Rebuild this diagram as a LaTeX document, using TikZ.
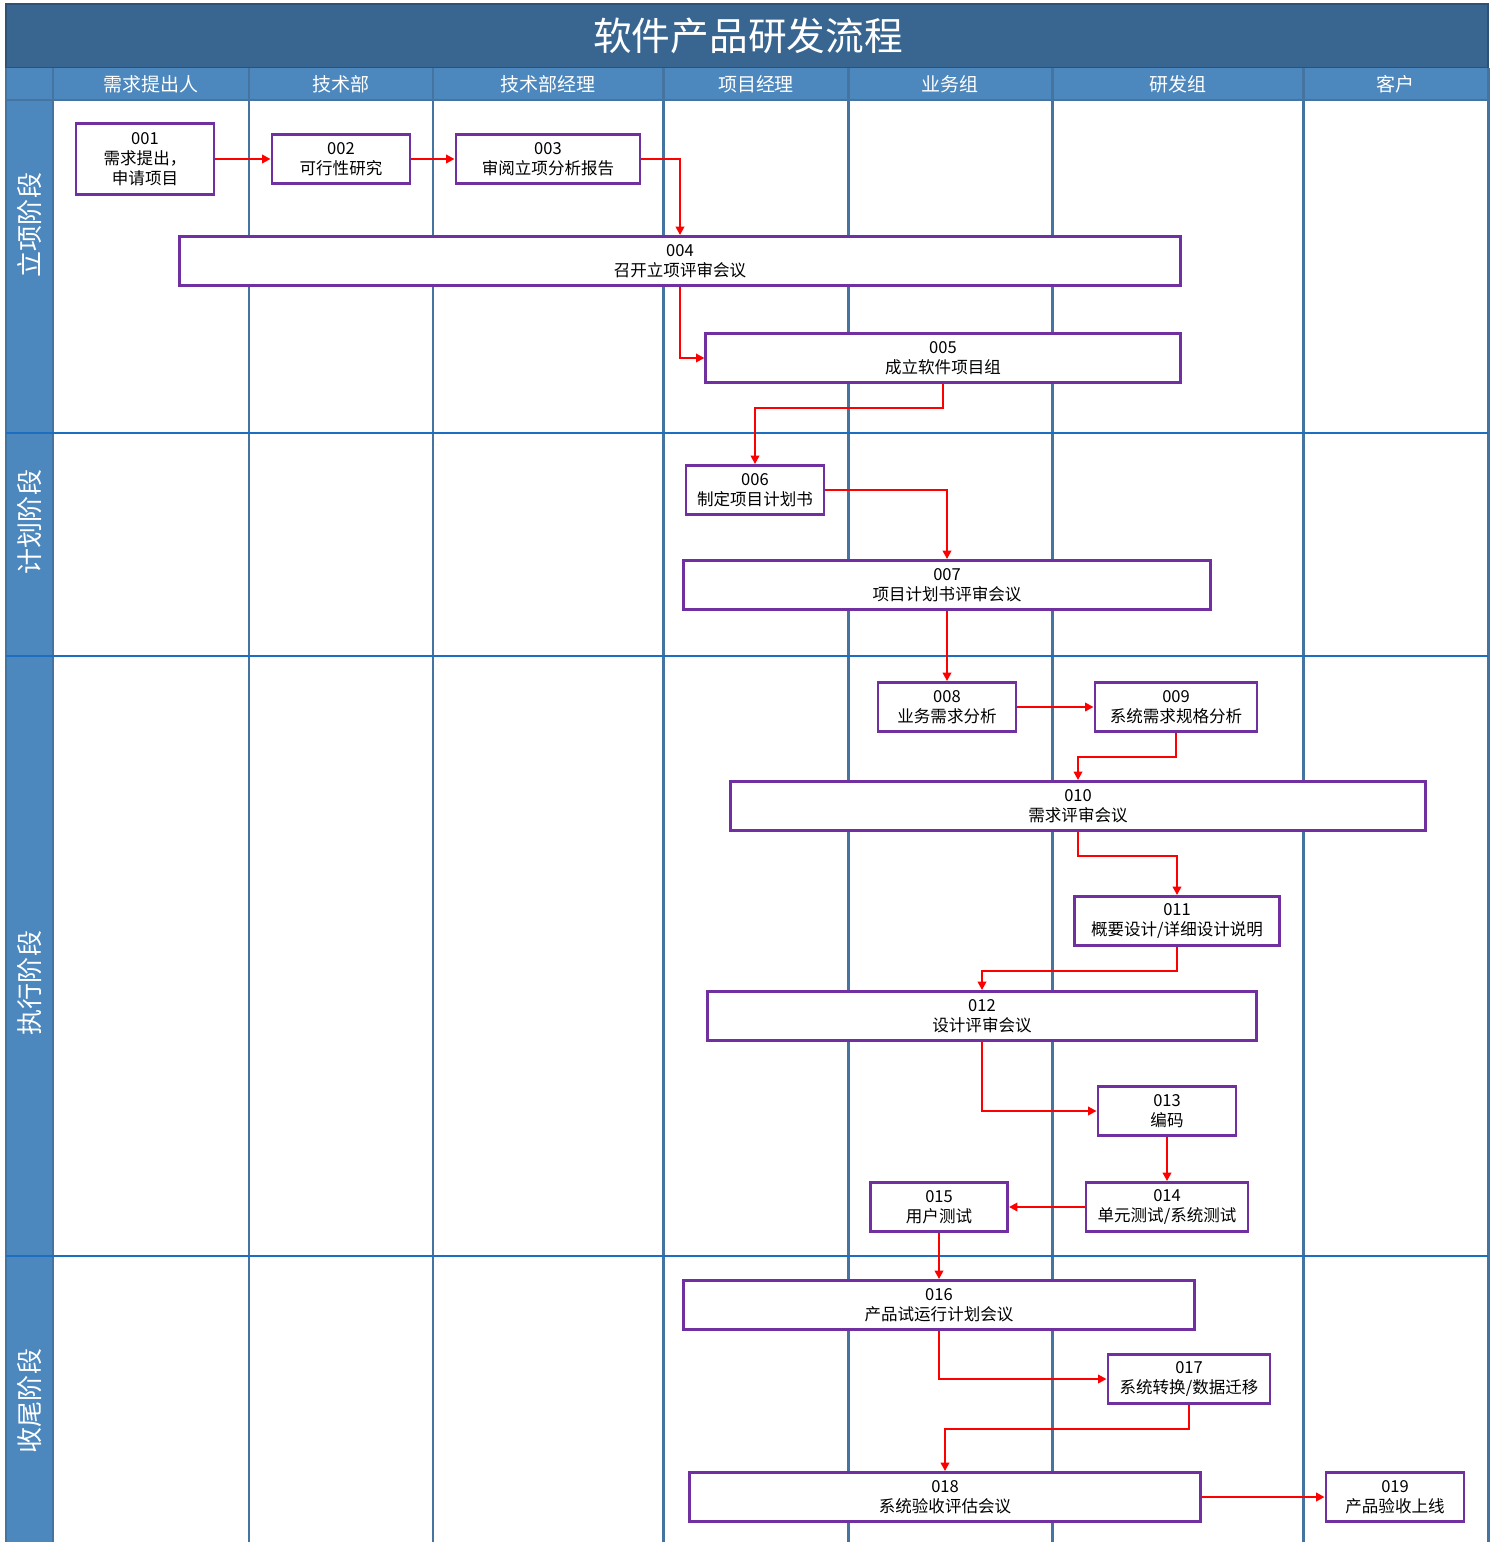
\documentclass[tikz,border=0pt]{standalone}
\usepackage{fontspec}
\setmainfont{Noto Sans CJK SC}
\usetikzlibrary{arrows.meta}

\definecolor{titleblue}{RGB}{57,102,144}
\definecolor{headblue}{RGB}{76,135,189}
\definecolor{laneline}{RGB}{70,116,160}
\definecolor{phaseline}{RGB}{28,110,192}
\definecolor{boxpurple}{RGB}{112,48,160}

\tikzset{
    stepbox/.style={draw=boxpurple, line width=0.8pt, fill=white, align=center,
        inner sep=0pt, minimum height=0.49cm, font=\fontsize{4.7}{5.7}\selectfont},
    flow/.style={draw=red, line width=0.6pt, -{Triangle[length=2.4pt,width=2.4pt]}},
    headtext/.style={text=white, font=\fontsize{5.4}{6}\selectfont},
    phasetext/.style={text=white, rotate=90, font=\fontsize{7.4}{8}\selectfont}
}

\begin{document}
\begin{tikzpicture}[x=0.01cm, y=-0.01cm]
        \useasboundingbox (0,0) rectangle (1498,1542);

        % title bar
        \fill[titleblue] (6,4) rectangle (1488,68);
        \draw[titleblue!80!black, line width=0.6pt] (6,4) rectangle (1488,68);
        \node[text=white, font=\fontsize{11}{12}\selectfont] (title) at (748,36) {软件产品研发流程};

        % header row and phase column
        \fill[headblue] (6,68) rectangle (1488,100);
        \fill[headblue] (6,100) rectangle (53,1542);
        \draw[laneline, line width=0.6pt] (6,100) -- (1488,100);

        % lanes
        \foreach \x in {53,249,433,663,848,1052,1303,1488}
            \draw[laneline, line width=0.85pt] (\x,68) -- (\x,1542);
        \draw[laneline, line width=0.6pt] (6,68) -- (6,1542);

        % phases
        \foreach \y in {433,656,1256}
            \draw[phaseline, line width=0.6pt] (6,\y) -- (1488,\y);

        \node[headtext] (h1) at (151,84) {需求提出人};
        \node[headtext] (h2) at (341,84) {技术部};
        \node[headtext] (h3) at (548,84) {技术部经理};
        \node[headtext] (h4) at (756,84) {项目经理};
        \node[headtext] (h5) at (950,84) {业务组};
        \node[headtext] (h6) at (1178,84) {研发组};
        \node[headtext] (h7) at (1395,84) {客户};

        \node[phasetext] (p1) at (30,225) {立项阶段};
        \node[phasetext] (p2) at (30,522) {计划阶段};
        \node[phasetext] (p3) at (30,983) {执行阶段};
        \node[phasetext] (p4) at (30,1401) {收尾阶段};

        % steps
        \node[stepbox, minimum width=1.38cm, minimum height=0.71cm] (n001) at (145,159) {001\\需求提出，\\申请项目};
        \node[stepbox, minimum width=1.38cm] (n002) at (341,159) {002\\可行性研究};
        \node[stepbox, minimum width=1.84cm] (n003) at (548,159) {003\\审阅立项分析报告};
        \node[stepbox, minimum width=10.00cm] (n004) at (680,261) {004\\召开立项评审会议};
        \node[stepbox, minimum width=4.74cm] (n005) at (943,358) {005\\成立软件项目组};
        \node[stepbox, minimum width=1.38cm] (n006) at (755,490) {006\\制定项目计划书};
        \node[stepbox, minimum width=5.27cm] (n007) at (947,585) {007\\项目计划书评审会议};
        \node[stepbox, minimum width=1.38cm] (n008) at (947,707) {008\\业务需求分析};
        \node[stepbox, minimum width=1.62cm] (n009) at (1176,707) {009\\系统需求规格分析};
        \node[stepbox, minimum width=6.95cm] (n010) at (1078,806) {010\\需求评审会议};
        \node[stepbox, minimum width=2.05cm] (n011) at (1177,921) {011\\概要设计/详细设计说明};
        \node[stepbox, minimum width=5.49cm] (n012) at (982,1016) {012\\设计评审会议};
        \node[stepbox, minimum width=1.38cm] (n013) at (1167,1111) {013\\编码};
        \node[stepbox, minimum width=1.62cm] (n014) at (1167,1207) {014\\单元测试/系统测试};
        \node[stepbox, minimum width=1.37cm] (n015) at (939,1207) {015\\用户测试};
        \node[stepbox, minimum width=5.11cm] (n016) at (939,1305) {016\\产品试运行计划会议};
        \node[stepbox, minimum width=1.62cm] (n017) at (1189,1379) {017\\系统转换/数据迁移};
        \node[stepbox, minimum width=5.10cm] (n018) at (945,1497) {018\\系统验收评估会议};
        \node[stepbox, minimum width=1.38cm] (n019) at (1395,1497) {019\\产品验收上线};

        % connectors
        \draw[flow] (n001.east) -- (n002.west);
        \draw[flow] (n002.east) -- (n003.west);
        \draw[flow] (n003.east) -| (n004.north);
        \draw[flow] (n004.south) |- (n005.west);
        \draw[flow] (n005.south) -- ++(0,24) -| (n006.north);
        \draw[flow] (n006.east) -| (n007.north);
        \draw[flow] (n007.south) -- (n008.north);
        \draw[flow] (n008.east) -- (n009.west);
        \draw[flow] (n009.south) -- ++(0,24) -| (n010.north);
        \draw[flow] (n010.south) -- ++(0,24) -| (n011.north);
        \draw[flow] (n011.south) -- ++(0,24) -| (n012.north);
        \draw[flow] (n012.south) |- (n013.west);
        \draw[flow] (n013.south) -- (n014.north);
        \draw[flow] (n014.west) -- (n015.east);
        \draw[flow] (n015.south) -- (n016.north);
        \draw[flow] (n016.south) |- (n017.west);
        \draw[flow] (n017.south) -- ++(0,24) -| (n018.north);
        \draw[flow] (n018.east) -- (n019.west);
    \end{tikzpicture}
\end{document}
